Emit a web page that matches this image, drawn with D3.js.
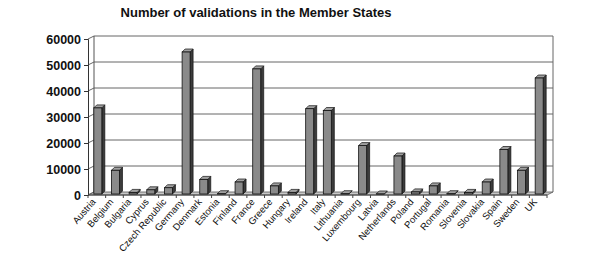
<!DOCTYPE html>
<html><head><meta charset="utf-8">
<script src="https://cdn.jsdelivr.net/npm/d3@7"></script>
<style>
body{margin:0;background:#fff;}
svg{display:block;}
text{font-family:"Liberation Sans",Arial,sans-serif;fill:#111;}
</style></head>
<body>
<svg id="chart" width="603" height="254"></svg>
<script>
const title = "Number of validations in the Member States";
const countries = ["Austria","Belgium","Bulgaria","Cyprus","Czech Republic","Germany","Denmark","Estonia","Finland","France","Greece","Hungary","Ireland","Italy","Lithuania","Luxembourg","Latvia","Netherlands","Poland","Portugal","Romania","Slovenia","Slovakia","Spain","Sweden","UK"];
const validations = [33500,9500,1000,2000,2800,55000,6000,500,5000,48500,3500,1000,33200,32500,500,19000,400,15000,1200,3500,500,1000,5000,17500,9500,45000];
const yTicks = [0,10000,20000,30000,40000,50000,60000];

const svg = d3.select("#chart");
const pLeft = 88, pRight = 547, pBottom = 195, pTop = 39;
const dx = 6, dy = -3;

const x = d3.scaleBand().domain(countries).range([pLeft, pRight]).paddingInner(0.5).paddingOuter(0.25);
const y = d3.scaleLinear().domain([0, 60000]).range([pBottom, pTop]);

// title
svg.append("text").attr("x", 256).attr("y", 17).attr("text-anchor", "middle")
  .style("font-weight", "bold").style("font-size", "13px").text(title);

// floor
svg.append("path")
  .attr("d", `M${pLeft},${pBottom}L${pRight},${pBottom}L${pRight+dx},${pBottom+dy}L${pLeft+dx},${pBottom+dy}Z`)
  .attr("fill", "#c8c8c8").attr("stroke", "#555").attr("stroke-width", 0.8);

// back wall gridlines and side wall connectors
const g = svg.append("g");
yTicks.forEach(t => {
  const yy = y(t);
  if (t > 0) {
    g.append("line").attr("x1", pLeft + dx).attr("x2", pRight + dx).attr("y1", yy + dy).attr("y2", yy + dy)
      .attr("stroke", "#666").attr("stroke-width", 1);
  }
  g.append("line").attr("x1", pLeft).attr("x2", pLeft + dx).attr("y1", yy).attr("y2", yy + dy)
    .attr("stroke", "#666").attr("stroke-width", 1);
});
g.append("line").attr("x1", pLeft + dx).attr("x2", pLeft + dx).attr("y1", y(60000) + dy).attr("y2", pBottom + dy).attr("stroke", "#555");
g.append("line").attr("x1", pRight + dx).attr("x2", pRight + dx).attr("y1", y(60000) + dy).attr("y2", pBottom + dy).attr("stroke", "#666");

// y axis
const yAxis = d3.axisLeft(y).tickValues(yTicks).tickSize(4).tickPadding(3).tickFormat(d3.format("d"));
const ya = svg.append("g").attr("transform", `translate(${pLeft},0)`).call(yAxis);
ya.select(".domain").attr("stroke", "#333");
ya.selectAll(".tick line").attr("stroke", "#333");
ya.selectAll("text").style("font-size", "12.5px").style("font-weight", "bold").attr("fill", "#111");

// x axis (category ticks at band boundaries)
const xb = svg.append("g");
xb.append("line").attr("x1", pLeft).attr("x2", pRight).attr("y1", pBottom).attr("y2", pBottom).attr("stroke", "#444");
d3.range(countries.length + 1).forEach(i => {
  const xx = pLeft + (pRight - pLeft) * i / countries.length;
  xb.append("line").attr("x1", xx).attr("x2", xx).attr("y1", pBottom).attr("y2", pBottom + 3).attr("stroke", "#444");
});
xb.selectAll("text.cat").data(countries).join("text").attr("class", "cat")
  .attr("transform", d => `translate(${x(d) + x.bandwidth() / 2 - 3},${pBottom + 5}) rotate(-49)`)
  .attr("text-anchor", "end").attr("dy", "0.35em")
  .style("font-size", "9.5px").text(d => d);

// bars (3D)
const bw = 8, sd = 3;
const bars = svg.append("g").selectAll("g").data(countries.map((c, i) => ({c, v: validations[i]}))).join("g");
bars.each(function(d) {
  const cx = x(d.c) + x.bandwidth() / 2 + 1;
  const x0 = cx - bw / 2, x1 = cx + bw / 2;
  const yt = y(d.v), yb = pBottom - 1;
  const s = d3.select(this);
  s.append("path").attr("d", `M${x1},${yb}L${x1 + sd},${yb - sd}L${x1 + sd},${yt - sd}L${x1},${yt}Z`)
    .attr("fill", "#3c3c3c").attr("stroke", "#111").attr("stroke-width", 0.7);
  s.append("path").attr("d", `M${x0},${yt}L${x0 + sd},${yt - sd}L${x1 + sd},${yt - sd}L${x1},${yt}Z`)
    .attr("fill", "#a0a0a0").attr("stroke", "#111").attr("stroke-width", 0.7);
  s.append("rect").attr("x", x0).attr("y", yt).attr("width", bw).attr("height", yb - yt)
    .attr("fill", "#8a8a8a").attr("stroke", "#111").attr("stroke-width", 0.8);
});
</script>
</body></html>
